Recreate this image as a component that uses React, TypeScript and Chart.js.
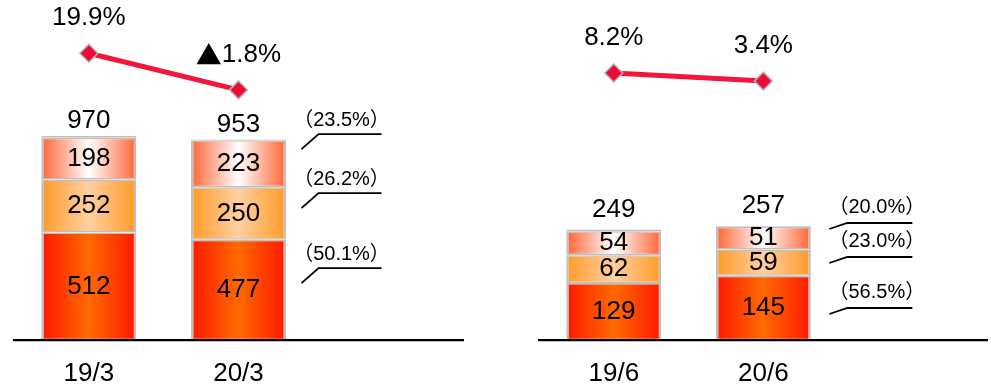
import React, { useEffect, useRef } from 'react';
import { Chart, registerables } from 'chart.js';

Chart.register(...registerables);

// ---------------- Data ----------------
const fyLabels = ['19/3', '20/3'];
const fyTotals = [970, 953];
const fyBottom = [512, 477];
const fyMiddle = [252, 250];
const fyTop = [198, 223];
const fyOther = [8, 3];
const fyMargin = [19.9, -1.8];
const fyMarginLabels = ['19.9%', '▲1.8%'];
const fyShareLabels = ['（23.5%）', '（26.2%）', '（50.1%）'];

const qLabels = ['19/6', '20/6'];
const qTotals = [249, 257];
const qBottom = [129, 145];
const qMiddle = [62, 59];
const qTop = [54, 51];
const qOther = [4, 2];
const qMargin = [8.2, 3.4];
const qMarginLabels = ['8.2%', '3.4%'];
const qShareLabels = ['（20.0%）', '（23.0%）', '（56.5%）'];

// ---------------- Styles ----------------
const FONT = "'Liberation Sans', Arial, 'Noto Sans CJK JP', sans-serif";
const CJK_FONT = "'Noto Sans CJK JP', sans-serif";
const BAR_PCT = 0.635;
const BORDER_GRAY = '#bfbfbf';

function hGradient(edge: string, mid: string) {
  return (ctx: any) => {
    const chart = ctx.chart;
    const xs = chart.scales && chart.scales.x;
    if (!xs || ctx.type !== 'data') return edge;
    const c = xs.getPixelForValue(ctx.dataIndex);
    const step = xs.getPixelForValue(1) - xs.getPixelForValue(0);
    const half = (step * BAR_PCT) / 2;
    if (!isFinite(c) || !isFinite(half) || half <= 0) return edge;
    const g = chart.ctx.createLinearGradient(c - half, 0, c + half, 0);
    g.addColorStop(0, edge);
    g.addColorStop(0.5, mid);
    g.addColorStop(1, edge);
    return g;
  };
}

type ShareLayout = {
  at: number[]; // y-scale value where each leader's horizontal part sits
  gap: number;
  dx: number;
  dy: number;
  len: number;
  textX: number;
  textY: number;
};

type PanelProps = {
  left: number;
  width: number;
  padLeft: number;
  padRight: number;
  labels: string[];
  totals: number[];
  bottom: number[];
  middle: number[];
  top: number[];
  other: number[];
  margin: number[];
  marginLabels: string[];
  shareLabels: string[];
  yMax: number;
  totalGap: number;
  share: ShareLayout;
};

function drawMarginLabel(ctx: CanvasRenderingContext2D, text: string, x: number, y: number) {
  if (text.startsWith('▲')) {
    const rest = text.slice(1);
    ctx.font = `26px ${CJK_FONT}`;
    const w1 = ctx.measureText('▲').width;
    ctx.font = `26px ${FONT}`;
    const w2 = ctx.measureText(rest).width;
    const start = x - (w1 + w2) / 2;
    ctx.textAlign = 'left';
    ctx.font = `26px ${CJK_FONT}`;
    ctx.fillText('▲', start, y);
    ctx.font = `26px ${FONT}`;
    ctx.fillText(rest, start + w1, y);
    ctx.textAlign = 'center';
  } else {
    ctx.font = `26px ${FONT}`;
    ctx.fillText(text, x, y);
  }
}

function makeLabelPlugin(p: PanelProps) {
  return {
    id: 'panelLabels',
    afterDatasetsDraw(chart: any) {
      const ctx = chart.ctx;
      ctx.save();
      ctx.fillStyle = '#000';
      ctx.textAlign = 'center';
      ctx.textBaseline = 'middle';
      ctx.font = `26px ${FONT}`;
      // values inside segments
      for (let d = 0; d < 3; d++) {
        const meta = chart.getDatasetMeta(d);
        meta.data.forEach((el: any, i: number) => {
          const v = chart.data.datasets[d].data[i];
          ctx.fillText(String(v), el.x, (el.y + el.base) / 2);
        });
      }
      // totals above stacks
      const topMeta = chart.getDatasetMeta(3);
      topMeta.data.forEach((el: any, i: number) => {
        ctx.fillText(String(p.totals[i]), el.x, el.y - p.totalGap);
      });
      // margin labels above line points
      const lineMeta = chart.getDatasetMeta(4);
      lineMeta.data.forEach((el: any, i: number) => {
        drawMarginLabel(ctx, p.marginLabels[i], el.x, el.y - 35);
      });
      // share labels with leader lines
      const last: any = chart.getDatasetMeta(0).data[p.totals.length - 1];
      const x0 = last.x + last.width / 2 + p.share.gap;
      const ys = chart.scales.y;
      ctx.font = `20px ${FONT}`;
      ctx.lineWidth = 1.8;
      ctx.strokeStyle = '#000';
      p.shareLabels.forEach((t, k) => {
        const ly = ys.getPixelForValue(p.share.at[k]);
        ctx.beginPath();
        ctx.moveTo(x0, ly + p.share.dy);
        ctx.lineTo(x0 + p.share.dx, ly);
        ctx.lineTo(x0 + p.share.len, ly);
        ctx.stroke();
        ctx.fillText(t, x0 + p.share.textX, ly - p.share.textY);
      });
      ctx.restore();
    },
  };
}

function Panel(p: PanelProps) {
  const ref = useRef<HTMLCanvasElement | null>(null);
  useEffect(() => {
    if (!ref.current) return;
    const barCommon = {
      type: 'bar' as const,
      order: 1,
      borderColor: BORDER_GRAY,
      borderWidth: { top: 1.5, bottom: 1.5, left: 2.5, right: 2.5 },
      borderSkipped: false as const,
      categoryPercentage: 1,
      barPercentage: BAR_PCT,
      yAxisID: 'y',
    };
    const chart = new Chart(ref.current, {
      type: 'bar',
      data: {
        labels: [...p.labels, ''],
        datasets: [
          { ...barCommon, label: 'bottom', data: p.bottom, backgroundColor: hGradient('#ff1800', '#ff6a00') },
          { ...barCommon, label: 'middle', data: p.middle, backgroundColor: hGradient('#ff9a26', '#ffd0a0') },
          { ...barCommon, label: 'top', data: p.top, backgroundColor: hGradient('#ff6434', '#ffffff') },
          { ...barCommon, label: 'other', data: p.other, backgroundColor: '#cfcfcf' },
          {
            type: 'line' as const,
            label: 'margin',
            order: 0,
            data: p.margin,
            yAxisID: 'y2',
            borderColor: '#f2163f',
            borderWidth: 5,
            pointStyle: 'rectRot',
            pointRadius: 9,
            pointBackgroundColor: '#ee0a36',
            pointBorderColor: '#b4b4b4',
            pointBorderWidth: 1.5,
            clip: false as any,
          } as any,
        ],
      },
      options: {
        animation: false,
        responsive: true,
        maintainAspectRatio: false,
        layout: { autoPadding: false, padding: { left: p.padLeft, right: p.padRight, top: 0, bottom: 0 } },
        plugins: { legend: { display: false }, tooltip: { enabled: false }, title: { display: false } },
        events: [],
        scales: {
          x: {
            stacked: true,
            offset: true,
            grid: { display: false },
            border: { display: true, color: '#000', width: 2.3, z: 1 } as any,
            ticks: {
              color: '#000',
              font: { family: FONT, size: 26 },
              padding: 10,
              autoSkip: false,
              maxRotation: 0,
              minRotation: 0,
            },
            afterFit: (axis: any) => {
              axis.height = 46.7;
            },
          },
          y: { stacked: true, display: false, min: 0, max: p.yMax },
          y2: { display: false, min: -150, max: 51.4, position: 'right' },
        },
      },
      plugins: [makeLabelPlugin(p)],
    } as any);
    return () => chart.destroy();
  }, []);
  return (
    <div style={{ position: 'absolute', top: 0, left: p.left, width: p.width, height: 387 }}>
      <canvas ref={ref} />
    </div>
  );
}

export default function App() {
  return (
    <div style={{ position: 'fixed', left: 0, top: 0, width: 991, height: 387, background: '#fff' }}>
      <Panel
        left={0}
        width={500}
        padLeft={14}
        padRight={37}
        labels={fyLabels}
        totals={fyTotals}
        bottom={fyBottom}
        middle={fyMiddle}
        top={fyTop}
        other={fyOther}
        margin={fyMargin}
        marginLabels={fyMarginLabels}
        shareLabels={fyShareLabels}
        yMax={1616}
        totalGap={15}
        share={{ at: [979, 699, 343], gap: 15.5, dx: 17, dy: 15, len: 80, textX: 40, textY: 13.5 }}
      />
      <Panel
        left={500}
        width={491}
        padLeft={39}
        padRight={3.3}
        labels={qLabels}
        totals={qTotals}
        bottom={qBottom}
        middle={qMiddle}
        top={qTop}
        other={qOther}
        margin={qMargin}
        marginLabels={qMarginLabels}
        shareLabels={qShareLabels}
        yMax={765}
        totalGap={20}
        share={{ at: [263.7, 187.3, 72.6], gap: 18.5, dx: 18, dy: 6, len: 83, textX: 47.5, textY: 15.5 }}
      />
    </div>
  );
}
